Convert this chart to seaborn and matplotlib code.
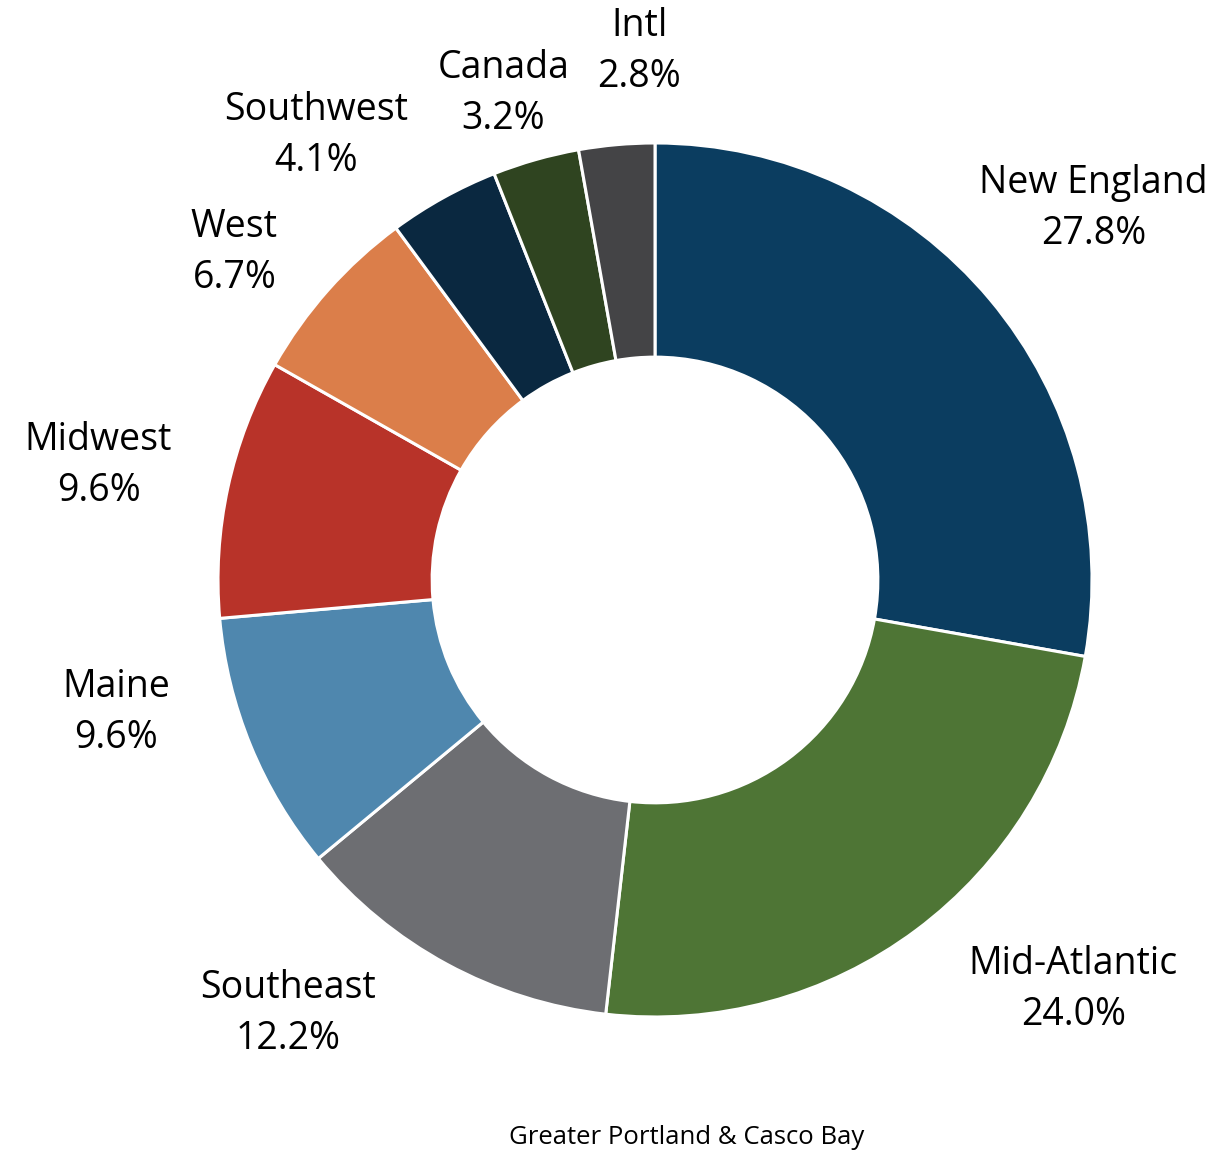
import matplotlib

matplotlib.use("Agg")
import matplotlib.pyplot as plt
import numpy as np
import seaborn as sns

REGIONS = ["New England", "Mid-Atlantic", "Southeast", "Maine", "Midwest",
           "West", "Southwest", "Canada", "Intl"]
SHARES = [27.8, 24.0, 12.2, 9.6, 9.6, 6.7, 4.1, 3.2, 2.8]
COLORS = ["#0b3d60", "#4e7535", "#6d6e72", "#4f87ae", "#b83329",
          "#db7e4a", "#0a2840", "#2f4420", "#444446"]

# label placement (radius in units of R, angle in degrees)
LABEL_POLAR = [(1.315, 40.3), (1.34, -44.4), (1.30, -130.2), (1.27, -166.2),
               (1.30, 168.4), (1.22, 142.1), (1.28, 127.3), (1.167, 107.3),
               (1.21, 91.7)]

sns.set_theme(style="white")
plt.rcParams["font.family"] = ["Open Sans", "DejaVu Sans"]

fig = plt.figure(figsize=(12.19, 11.58), dpi=100)
ax = fig.add_axes([0, 0, 1, 1])

ax.pie(SHARES, colors=COLORS, startangle=90, counterclock=False, radius=1.0,
       wedgeprops=dict(width=0.49, edgecolor="white", linewidth=2.2))

for name, val, (r, ang) in zip(REGIONS, SHARES, LABEL_POLAR):
    x = r * np.cos(np.radians(ang))
    y = r * np.sin(np.radians(ang))
    ax.text(x, y, f"{name}\n{val:.1f}%", ha="center", va="center",
            fontsize=27, color="black", linespacing=1.45)

ax.set_xlim(-1.4989, 1.2906)
ax.set_ylim(-1.3227, 1.3272)
ax.set_aspect("equal")
ax.axis("off")

fig.text(0.563, 0.007, "Greater Portland & Casco Bay", ha="center", va="bottom",
         fontsize=18.5, color="black")

fig.savefig("out.png", dpi=100)
